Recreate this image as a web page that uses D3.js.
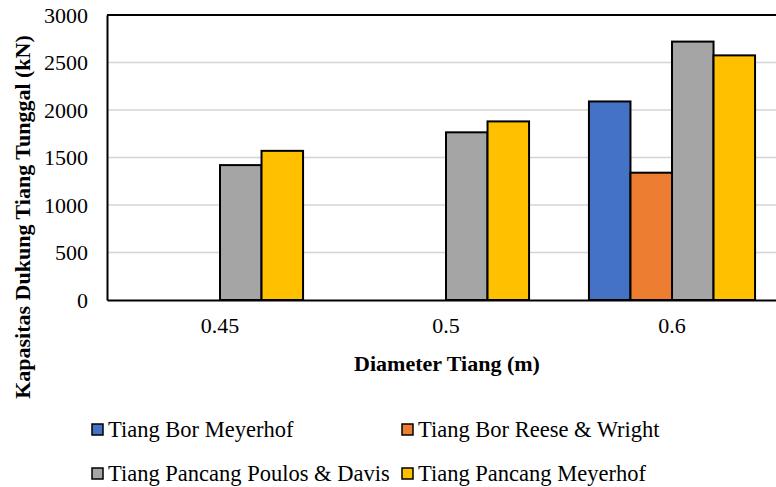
<!DOCTYPE html>
<html>
<head>
<meta charset="utf-8">
<script src="https://cdn.jsdelivr.net/npm/d3@7"></script>
<style>
  html, body { margin: 0; padding: 0; background: #fff; }
  svg { display: block; }
</style>
</head>
<body>
<svg id="chart" width="776" height="487"></svg>
<script>
// Pile diameters (m)
const categories = ["0.45", "0.5", "0.6"];
// Single pile bearing capacity (kN) per method
const seriesNames = [
  "Tiang Bor Meyerhof",
  "Tiang Bor Reese & Wright",
  "Tiang Pancang Poulos & Davis",
  "Tiang Pancang Meyerhof"
];
const boreMeyerhof = [null, null, 2090];
const boreReeseWright = [null, null, 1340];
const drivenPoulosDavis = [1420, 1765, 2720];
const drivenMeyerhof = [1570, 1880, 2575];
const yTicks = [0, 500, 1000, 1500, 2000, 2500, 3000];
const colors = ["#4472C4", "#ED7D31", "#A5A5A5", "#FFC000"];

const FONT = "'Liberation Serif', 'Times New Roman', Times, serif";

const seriesValues = [boreMeyerhof, boreReeseWright, drivenPoulosDavis, drivenMeyerhof];
const rows = categories.map((c, i) => ({
  cat: c,
  vals: seriesValues.map((s, k) => ({ key: seriesNames[k], k, v: s[i] }))
}));

const svg = d3.select("#chart");
const plot = { left: 107, top: 15, bottom: 300, width: 678 };

const x0 = d3.scaleBand().domain(categories).range([plot.left, plot.left + plot.width]).padding(0);
const groupW = x0.bandwidth() * 0.735;
const x1 = d3.scaleBand().domain(seriesNames)
  .range([(x0.bandwidth() - groupW) / 2, (x0.bandwidth() + groupW) / 2]).padding(0);
const y = d3.scaleLinear().domain([0, 3000]).range([plot.bottom, plot.top]);

// Horizontal gridlines
svg.append("g")
  .selectAll("line")
  .data(yTicks.filter(t => t > 0 && t < 3000))
  .join("line")
  .attr("x1", plot.left).attr("x2", plot.left + plot.width)
  .attr("y1", d => y(d)).attr("y2", d => y(d))
  .attr("stroke", "#d4d4d4").attr("stroke-width", 1.5);

// Bars
const groups = svg.append("g").selectAll("g")
  .data(rows)
  .join("g")
  .attr("transform", d => `translate(${x0(d.cat)},0)`);

groups.selectAll("rect")
  .data(d => d.vals.filter(e => e.v != null))
  .join("rect")
  .attr("x", d => x1(d.key))
  .attr("width", x1.bandwidth())
  .attr("y", d => y(d.v))
  .attr("height", d => y(0) - y(d.v))
  .attr("fill", d => colors[d.k])
  .attr("stroke", "#000")
  .attr("stroke-width", 2);

// Plot frame: top edge, then left and bottom axes
svg.append("line")
  .attr("x1", plot.left).attr("x2", plot.left + plot.width)
  .attr("y1", plot.top).attr("y2", plot.top)
  .attr("stroke", "#000").attr("stroke-width", 2);

const yAxis = d3.axisLeft(y).tickValues(yTicks).tickFormat(d3.format("d")).tickSize(0).tickPadding(19);
const gy = svg.append("g").attr("transform", `translate(${plot.left},0)`).call(yAxis)
  .attr("font-family", FONT).attr("font-size", 22);
gy.select(".domain").attr("stroke", "#000").attr("stroke-width", 2);

const xAxis = d3.axisBottom(x0).tickSize(0).tickPadding(17);
const gx = svg.append("g").attr("transform", `translate(0,${plot.bottom})`).call(xAxis)
  .attr("font-family", FONT).attr("font-size", 22);
gx.select(".domain").attr("stroke", "#000").attr("stroke-width", 2);

// Axis titles
svg.append("text")
  .attr("x", 447).attr("y", 371)
  .attr("text-anchor", "middle")
  .attr("font-family", FONT).attr("font-size", 22).attr("font-weight", "bold")
  .text("Diameter Tiang (m)");

svg.append("text")
  .attr("transform", "translate(22,217) rotate(-90)")
  .attr("text-anchor", "middle")
  .attr("dy", "0.35em")
  .attr("font-family", FONT).attr("font-size", 22).attr("font-weight", "bold")
  .text("Kapasitas Dukung Tiang Tunggal (kN)");

// Legend (two columns, two rows)
const legendPos = [
  { x: 92, y: 430 }, { x: 402, y: 430 },
  { x: 92, y: 474 }, { x: 402, y: 474 }
];
const legend = svg.append("g").selectAll("g")
  .data(seriesNames)
  .join("g")
  .attr("transform", (d, i) => `translate(${legendPos[i].x},${legendPos[i].y})`);
legend.append("rect")
  .attr("x", 0).attr("y", -6).attr("width", 11).attr("height", 11)
  .attr("fill", (d, i) => colors[i])
  .attr("stroke", "#000").attr("stroke-width", 1.5);
legend.append("text")
  .attr("x", 16).attr("y", 0).attr("dy", "0.33em")
  .attr("font-family", FONT).attr("font-size", 22.5)
  .text(d => d);
</script>
</body>
</html>
